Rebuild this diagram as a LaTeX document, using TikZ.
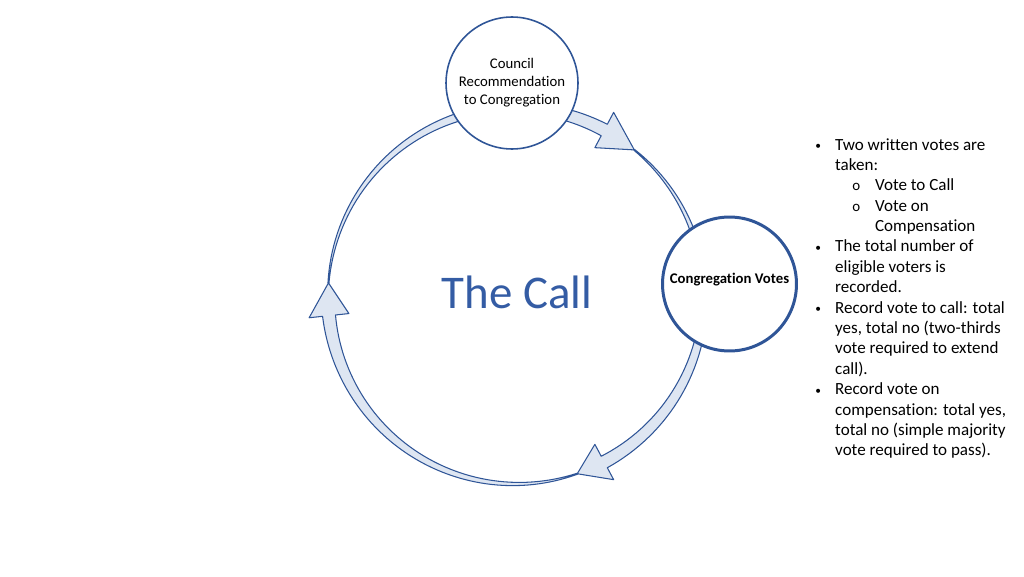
\documentclass[tikz,border=0pt]{standalone}
\usepackage{fontspec}
\setmainfont{Carlito}[Ligatures={NoCommon,NoContextual}]
\definecolor{ringblue}{RGB}{47,85,151}
\definecolor{ringfill}{RGB}{222,230,242}
\definecolor{callblue}{RGB}{52,92,164}
\tikzset{
  ringarrow/.style={draw=ringblue,fill=ringfill,line width=0.6pt,samples=60,line join=round},
  stage/.style={circle,draw=ringblue,fill=white,inner sep=0pt,align=center,text=black},
  notes/.style={inner sep=0pt,align=left,font=\fontsize{9.7}{11.6}\selectfont}
}
% tapered arc arrow round the ring: start angle, head base angle, tip angle
\newcommand{\ringarrow}[3]{%
  \filldraw[ringarrow,shift={(ring)}]
    plot[domain=#1:#2] (\x:{188.5+6*((#1)-\x)/((#1)-(#2))})
    -- (#2:208) -- (#3:188) -- (#2:168)
    -- plot[domain=#2:#1] (\x:{187.5-6*((#1)-\x)/((#1)-(#2))}) -- cycle;}
\newcommand{\notebul}{\makebox[11.3pt][l]{\raisebox{0.3pt}{\fontsize{6.5}{7}\selectfont\textbullet}}}
\newcommand{\notesub}{\hspace{21pt}\makebox[13pt][l]{\fontsize{8.5}{9}\selectfont o}}
\begin{document}
\begin{tikzpicture}[x=0.02cm,y=0.02cm]
  \useasboundingbox (0,0) rectangle (1024,576);
  \coordinate (ring) at (516,280);
  % Cycle arrows
  \ringarrow{51}{-62}{-71}
  \ringarrow{-71}{-174}{-184}
  \ringarrow{176}{62}{51}
  % Stages
  \node[stage,minimum size=2.64cm,line width=0.9pt,font=\fontsize{8.4}{10.2}\selectfont] (council) at (512,493)
    {Council\\Recommendation\\to Congregation};
  \node[stage,minimum size=2.68cm,line width=1.7pt,font=\fontsize{8.4}{10.2}\selectfont\bfseries] (votes) at (729.5,292)
    {\raisebox{2.3pt}[\height][\depth]{Congregation Votes}};
  % Title
  \node[anchor=base,text=callblue,font=\fontsize{26.7}{32}\selectfont] (title) at (517,268) {The Call};
  % Notes
  \node[notes,anchor=north west] (list) at (815,438) {%
    \notebul Two written votes are\\
    \hspace{11.3pt}taken:\\
    \notesub Vote to Call\\
    \notesub Vote on\\
    \hspace{34pt}Compensation\\
    \notebul The total number of\\
    \hspace{11.3pt}eligible voters is\\
    \hspace{11.3pt}recorded.\\
    \notebul Record vote to call: total\\
    \hspace{11.3pt}yes, total no (two-thirds\\
    \hspace{11.3pt}vote required to extend\\
    \hspace{11.3pt}call).\\
    \notebul Record vote on\\
    \hspace{11.3pt}compensation: total yes,\\
    \hspace{11.3pt}total no (simple majority\\
    \hspace{11.3pt}vote required to pass).};
\end{tikzpicture}
\end{document}
